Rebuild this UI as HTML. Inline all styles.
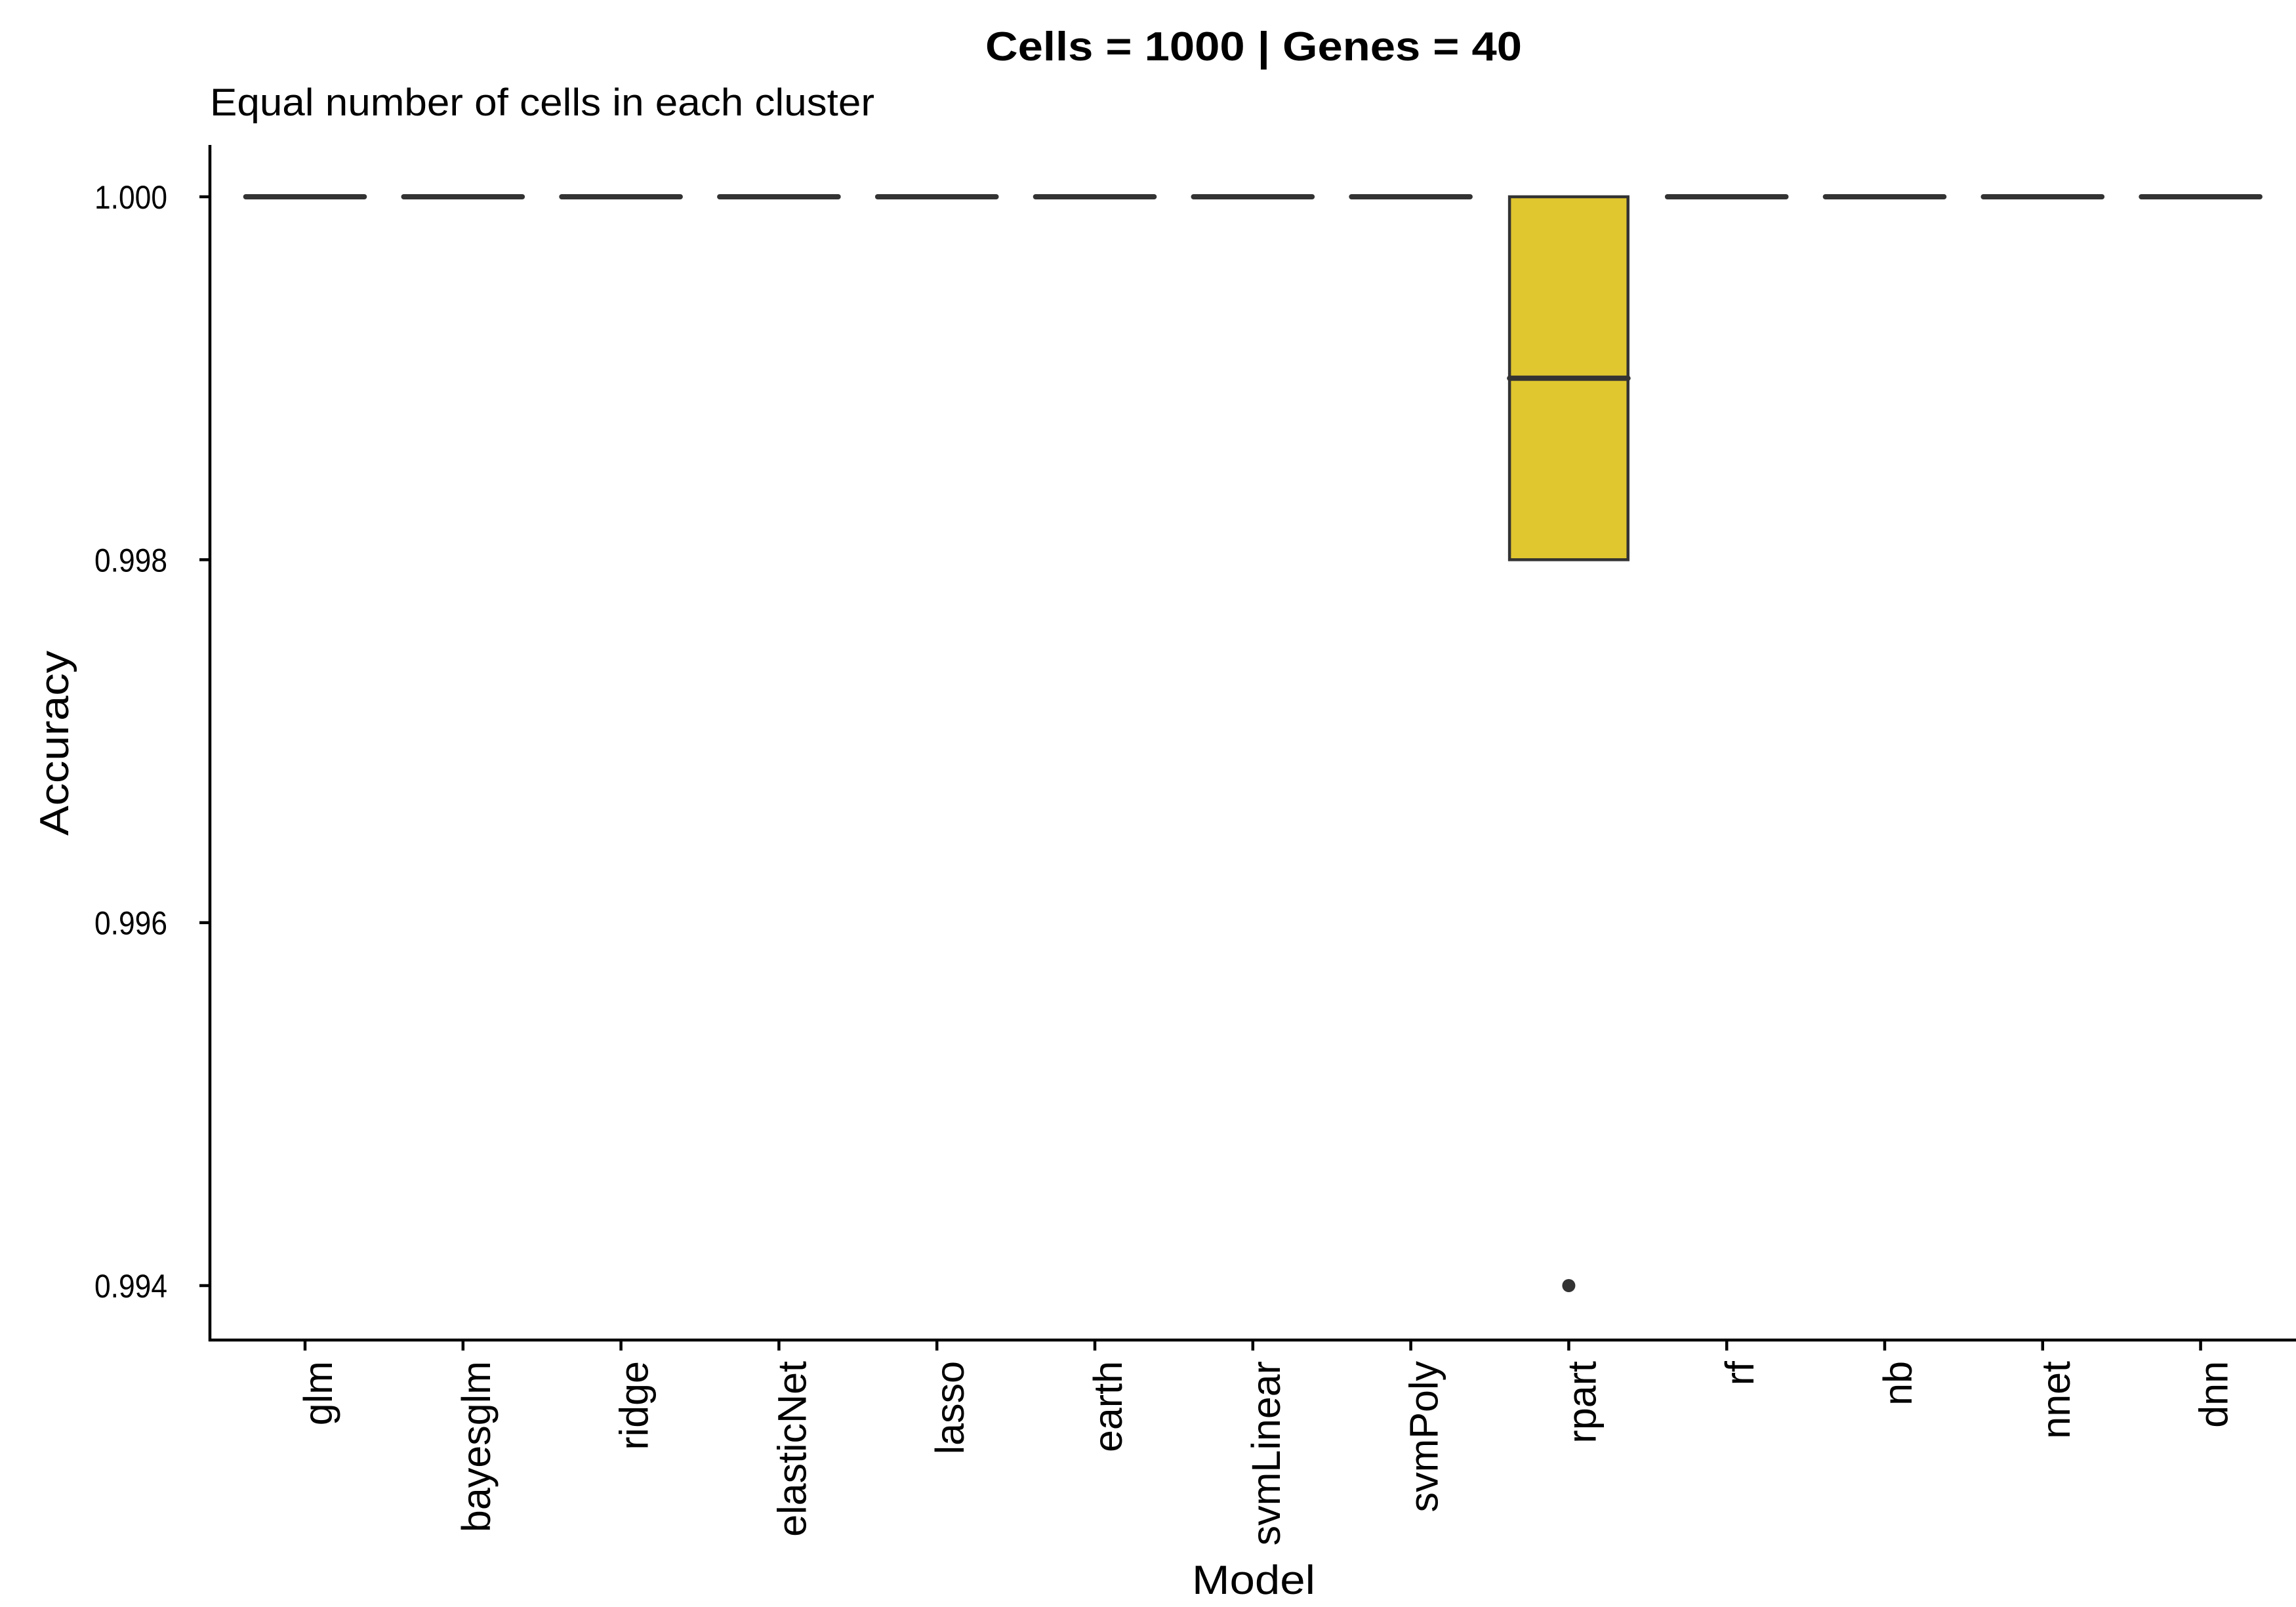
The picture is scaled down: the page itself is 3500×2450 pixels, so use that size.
<!DOCTYPE html>
<html><head><meta charset="utf-8"><style>
html,body{margin:0;padding:0;background:#fff}
svg{display:block;font-family:"Liberation Sans",sans-serif}
</style></head><body>
<svg id="chart" width="3500" height="2450" viewBox="0 0 3500 2450" xmlns="http://www.w3.org/2000/svg">
<rect width="3500" height="2450" fill="#fff"/>
<text x="1502" y="92" font-size="62" font-weight="bold" textLength="818" lengthAdjust="spacingAndGlyphs">Cells = 1000 | Genes = 40</text>
<text x="320" y="176" font-size="58" textLength="1013" lengthAdjust="spacingAndGlyphs">Equal number of cells in each cluster</text>
<text transform="translate(104,1133) rotate(-90)" x="-141" font-size="62" textLength="282" lengthAdjust="spacingAndGlyphs">Accuracy</text>
<text x="1817" y="2430" font-size="62" textLength="188" lengthAdjust="spacingAndGlyphs">Model</text>
<g id="marks"></g>
<g id="axes"></g>
</svg>
<script>
const categories = ["glm","bayesglm","ridge","elasticNet","lasso","earth","svmLinear","svmPoly","rpart","rf","nb","nnet","dnn"];
const q1 = [1,1,1,1,1,1,1,1,0.998,1,1,1,1];
const medians = [1,1,1,1,1,1,1,1,0.999,1,1,1,1];
const q3 = [1,1,1,1,1,1,1,1,1,1,1,1,1];
const outliers = [[],[],[],[],[],[],[],[],[0.994],[],[],[],[]];
const yTicks = [0.994,0.996,0.998,1.000];
const yTickLabels = ["0.994","0.996","0.998","1.000"];

const NS="http://www.w3.org/2000/svg";
const axL=320, axB=2043, axT=221, axR=3500;
const x0=465, step=240.8;
function xScale(i){return x0+i*step;}
function yS(v){return 300+(1.0-v)/0.006*1660;}
function mk(tag,attrs,parent){const e=document.createElementNS(NS,tag);for(const k in attrs)e.setAttribute(k,attrs[k]);parent.appendChild(e);return e;}
const marks=document.getElementById('marks');
const axes=document.getElementById('axes');
const bw=step*0.75;
categories.forEach((c,i)=>{
  const cx=xScale(i);
  const g=mk('g',{},marks);
  
  
  const top=yS(q3[i]), bot=yS(q1[i]);
  if(bot-top>1){
    const r=mk('rect',{x:cx-bw/2,y:top,width:bw,height:bot-top,fill:'#E0C72F',stroke:'#333',"stroke-width":4.5},g);
    
    
  }
  const m=mk('line',{x1:cx-bw/2,x2:cx+bw/2,y1:yS(medians[i]),y2:yS(medians[i]),stroke:'#333',"stroke-width":8,"stroke-linecap":"round"},g);
  
  
  outliers[i].forEach(v=>{
    const p=mk('circle',{cx:cx,cy:yS(v),r:10,fill:'#333'},g);
    
    
  });
  const t=mk('line',{x1:cx,x2:cx,y1:axB,y2:axB+16,stroke:'#000',"stroke-width":4.5},axes);
  
  
  const lb=mk('text',{transform:`translate(${cx+41},${axB+32}) rotate(-90)`,"text-anchor":"end","font-size":61},axes);
  lb.textContent=c;
  
  
});
yTicks.forEach((v,i)=>{
  const y=yS(v);
  const t=mk('line',{x1:axL-16,x2:axL,y1:y,y2:y,stroke:'#000',"stroke-width":4.5},axes);
  
  
  const lb=mk('text',{x:144,y:y+18,"font-size":50,textLength:111,lengthAdjust:"spacingAndGlyphs"},axes);
  lb.textContent=yTickLabels[i];
  
  
});
const ya=mk('line',{x1:axL,x2:axL,y1:axT,y2:axB+2,stroke:'#000',"stroke-width":4.5},axes);


const xa=mk('line',{x1:axL-2,x2:axR,y1:axB,y2:axB,stroke:'#000',"stroke-width":4.5},axes);


</script>
</body></html>
